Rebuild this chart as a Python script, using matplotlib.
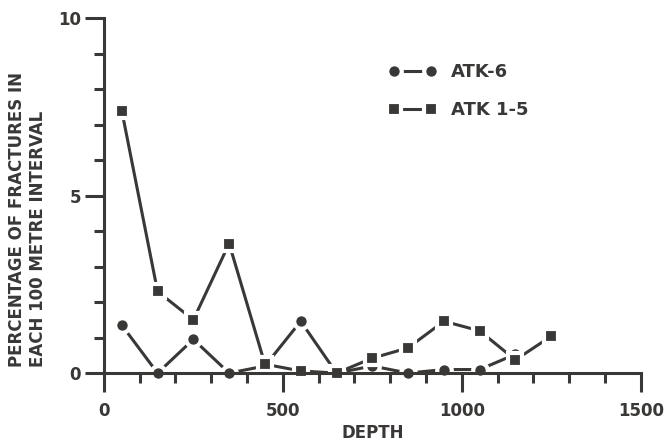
import matplotlib
matplotlib.use('Agg')
import matplotlib.pyplot as plt
from matplotlib.ticker import MultipleLocator

plt.rcParams['font.family'] = ['DejaVu Sans']
plt.rcParams['font.weight'] = 'bold'

ink = '#3a3836'

# depth of the middle of each 100 m interval
depth6 = [50, 150, 250, 350, 450, 550, 650, 750, 850, 950, 1050, 1150]
atk6 = [1.35, 0.0, 0.95, 0.0, 0.2, 1.46, 0.0, 0.2, 0.0, 0.1, 0.1, 0.53]

depth15 = [50, 150, 250, 350, 450, 550, 650, 750, 850, 950, 1050, 1150, 1250]
atk15 = [7.39, 2.3, 1.5, 3.65, 0.25, 0.06, 0.0, 0.42, 0.71, 1.46, 1.19, 0.37, 1.04]

fig = plt.figure(figsize=(6.66, 4.41), dpi=100)
ax = fig.add_axes([0.156, 0.154, 0.806, 0.805])

style = dict(color=ink, lw=2.2, ms=10.5, mew=3, mec='white', mfc=ink, clip_on=False)
ax.plot(depth6, atk6, marker='o', label='ATK-6', **style)
ax.plot(depth15, atk15, marker='s', label='ATK 1-5', **style)

ax.set_xlim(0, 1500)
ax.set_ylim(0, 10)
ax.xaxis.set_major_locator(MultipleLocator(500))
ax.xaxis.set_minor_locator(MultipleLocator(100))
ax.yaxis.set_major_locator(MultipleLocator(5))
ax.yaxis.set_minor_locator(MultipleLocator(1))

for s in ['top', 'right']:
    ax.spines[s].set_visible(False)
for s in ['left', 'bottom']:
    ax.spines[s].set_linewidth(2.2)
    ax.spines[s].set_color(ink)

ax.tick_params(which='major', direction='out', length=13.5, width=2.2, color=ink,
               labelsize=12, labelcolor=ink)
ax.tick_params(which='minor', direction='out', length=7, width=2.2, color=ink)
ax.tick_params(axis='x', which='major', pad=7)
ax.tick_params(axis='y', which='major', pad=3)

ax.set_xlabel('DEPTH', fontsize=12, fontweight='bold', color=ink, labelpad=3)

fig.text(0.041, 0.168, 'PERCENTAGE OF FRACTURES IN\nEACH 100 METRE INTERVAL',
         rotation=90, ha='center', va='bottom', multialignment='left',
         fontsize=12, fontweight='bold', color=ink, linespacing=1.25)

leg = ax.legend(loc='upper left', bbox_to_anchor=(0.5, 0.918), frameon=False,
                numpoints=2, handlelength=2.65, handletextpad=0.8, labelspacing=1.1,
                prop={'size': 13, 'weight': 'bold'})
for t in leg.get_texts():
    t.set_color(ink)

fig.savefig('out.png', dpi=100)
